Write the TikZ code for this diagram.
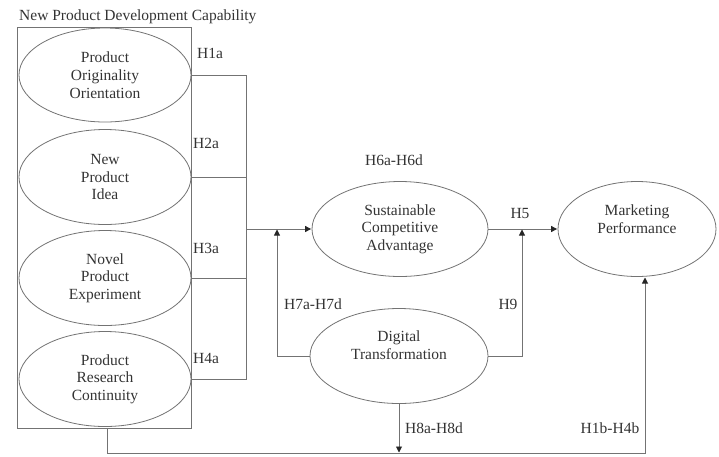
\documentclass[tikz,border=0pt]{standalone}
\usepackage{fontspec}
\setmainfont{Liberation Serif}
\usetikzlibrary{shapes.geometric,arrows.meta,calc}
\begin{document}
\begin{tikzpicture}[x=1pt,y=-1pt,
  every node/.style={font=\fontsize{15.5}{17.7}\selectfont, text=black!80},
  ell/.style={ellipse, draw=black!55, line width=0.8pt, inner sep=0pt, align=center},
  txt/.style={align=center, inner sep=0pt},
  lbl/.style={inner sep=0pt},
  conn/.style={draw=black!55, line width=0.9pt},
  arr/.style={conn, -{Triangle[length=6pt,width=6pt,color=black!85]}, shorten >=0.5pt}]
\useasboundingbox (0,0) rectangle (719,456);
% title and box
\node[lbl, anchor=west] (title) at (19,17) {New Product Development Capability};
\node[draw=black!55, line width=0.8pt, minimum width=174pt, minimum height=401pt, inner sep=0pt] (box) at (104,227.5) {};
% left ellipses
\node[ell, minimum width=172pt, minimum height=94pt] (POO) at (105,75) {Product\\Originality\\Orientation};
\node[ell, minimum width=172pt, minimum height=95pt] (NPI) at (105,177) {New\\Product\\Idea};
\node[ell, minimum width=172pt, minimum height=95pt] (NPE) at (105,278) {Novel\\Product\\Experiment};
\node[ell, minimum width=172pt, minimum height=95pt] (PRC) at (105,379) {Product\\Research\\Continuity};
% right ellipses
\node[ell, minimum width=176pt, minimum height=95pt] (SCA) at (400,229) {Sustainable\\Competitive\\Advantage};
\node[ell, minimum width=158pt, minimum height=95pt] (MP) at (637,229) {};
\node[txt] (MPt) at (637,219) {Marketing\\Performance};
\node[ell, minimum width=178pt, minimum height=95pt] (DT) at (399,356) {};
\node[txt] (DTt) at (399,345) {Digital\\Transformation};
% coordinates
\coordinate (jtop) at (246,75);
\coordinate (jbot) at (246,379);
\coordinate (jmid) at (246,229);
\coordinate (h7top) at (277,229);
\coordinate (h9top) at (522,229);
\coordinate (bstart) at (107,428);
\coordinate (bl) at (107,453);
\coordinate (br) at (645,453);
\coordinate (mpb) at (645,277);
% connectors
\draw[conn] (POO.east) -- (jtop) -- (jbot) -- (PRC.east);
\draw[conn] (NPI.east) -- (NPI.east -| jtop);
\draw[conn] (NPE.east) -- (NPE.east -| jtop);
\draw[arr] (jmid) -- (SCA.west);
\draw[arr] (DT.west) -| (h7top);
\draw[arr] (SCA.east) -- (MP.west);
\draw[arr] (DT.east) -| (h9top);
\draw[arr] (DT.south) -- (DT.south |- bl);
\draw[arr] (bstart) -- (bl) -- (br) -- (mpb);
% labels
\node[lbl] (H1a) at (210,53) {H1a};
\node[lbl] (H2a) at (206,143) {H2a};
\node[lbl] (H3a) at (206,248) {H3a};
\node[lbl] (H4a) at (206,358) {H4a};
\node[lbl] (H6) at (394,160) {H6a-H6d};
\node[lbl] (H5) at (520,213) {H5};
\node[lbl] (H7) at (313,304) {H7a-H7d};
\node[lbl] (H9) at (508,304) {H9};
\node[lbl] (H8) at (434,428) {H8a-H8d};
\node[lbl] (H1b) at (610,428) {H1b-H4b};
\end{tikzpicture}
\end{document}
